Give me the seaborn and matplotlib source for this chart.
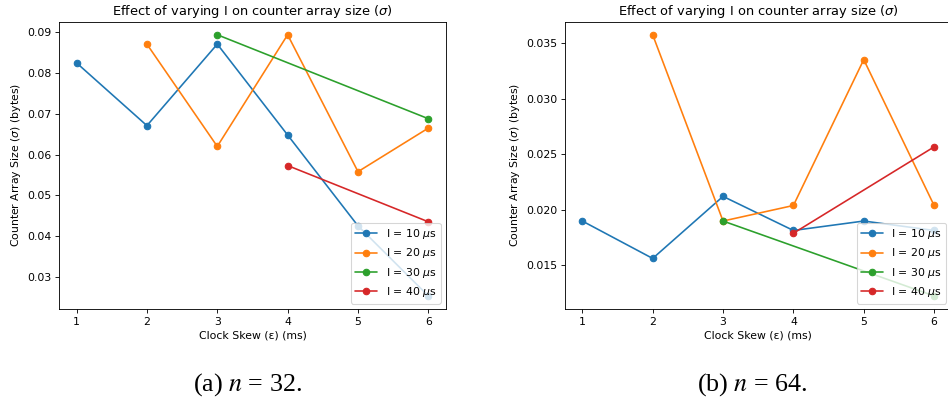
import matplotlib
matplotlib.use("Agg")
import matplotlib.pyplot as plt
import seaborn as sns
import pandas as pd

# Clock skew values (ms) at which each interval I was measured
skew_10 = [1, 2, 3, 4, 5, 6]
skew_20 = [2, 3, 4, 5, 6]
skew_30 = [3, 6]
skew_40 = [4, 6]

# n = 32: counter array size (bytes)
n32_i10 = [0.0825, 0.0671, 0.0871, 0.0648, 0.0425, 0.0253]
n32_i20 = [0.0871, 0.0620, 0.0894, 0.0558, 0.0665]
n32_i30 = [0.0894, 0.0688]
n32_i40 = [0.0573, 0.0435]

# n = 64: counter array size (bytes)
n64_i10 = [0.0190, 0.01563, 0.02122, 0.01815, 0.0190, 0.01815]
n64_i20 = [0.03578, 0.0190, 0.0204, 0.03354, 0.0204]
n64_i30 = [0.0190, 0.01225]
n64_i40 = [0.0179, 0.02568]

series_labels = [r"I = 10 $\mu$s", r"I = 20 $\mu$s", r"I = 30 $\mu$s", r"I = 40 $\mu$s"]
captions = [r"(a) $n$ = 32.", r"(b) $n$ = 64."]

title = r"Effect of varying I on counter array size ($\sigma$)"
xlabel = "Clock Skew (ε) (ms)"
ylabel = r"Counter Array Size ($\sigma$) (bytes)"

sns.set_style("white")
plt.rcParams["font.family"] = ["DejaVu Sans"]
plt.rcParams["axes.edgecolor"] = "black"
plt.rcParams["axes.linewidth"] = 0.8
plt.rcParams["xtick.bottom"] = True
plt.rcParams["ytick.left"] = True
plt.rcParams["xtick.major.size"] = 3.5
plt.rcParams["ytick.major.size"] = 3.5
plt.rcParams["xtick.color"] = "black"
plt.rcParams["ytick.color"] = "black"
plt.rcParams["text.color"] = "black"
plt.rcParams["axes.labelcolor"] = "black"

palette = sns.color_palette("tab10", 4)

DPI = 78
fig = plt.figure(figsize=(948 / DPI, 402 / DPI), dpi=DPI)
ax_a = fig.add_axes([0.0622, 0.2313, 0.4082, 0.7147])
ax_b = fig.add_axes([0.5957, 0.2313, 0.4082, 0.7147])

panels = [
    (ax_a, [n32_i10, n32_i20, n32_i30, n32_i40]),
    (ax_b, [n64_i10, n64_i20, n64_i30, n64_i40]),
]
skews = [skew_10, skew_20, skew_30, skew_40]

for ax, values in panels:
    for xs, ys, lab, col in zip(skews, values, series_labels, palette):
        df = pd.DataFrame({"skew": xs, "size": ys})
        sns.lineplot(data=df, x="skew", y="size", ax=ax, label=lab, color=col,
                     marker="o", markersize=6, markeredgecolor=col,
                     markeredgewidth=1.0, linewidth=1.5)
    ax.set_title(title, fontsize=12)
    ax.set_xlabel(xlabel, fontsize=10)
    ax.set_ylabel(ylabel, fontsize=10)
    ax.tick_params(labelsize=10)
    ax.set_xticks([1, 2, 3, 4, 5, 6])
    ax.set_xlim(0.75, 6.25)
    ax.legend(loc="lower right", fontsize=10)

fig.text(0.2605, 0.043, captions[0], ha="center", va="center",
         family="Liberation Serif", math_fontfamily="stix", fontsize=24)
fig.text(0.7935, 0.043, captions[1], ha="center", va="center",
         family="Liberation Serif", math_fontfamily="stix", fontsize=24)

fig.savefig("out.png", dpi=DPI)
